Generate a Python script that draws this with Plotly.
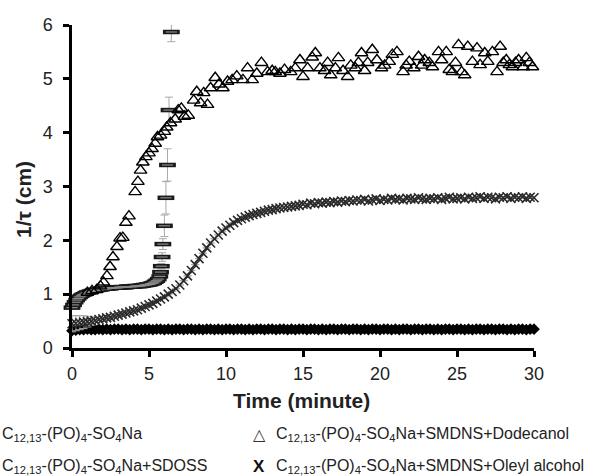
import plotly.graph_objects as go

# ---------------- data ----------------
# regular sampling grid (minutes) for the two long series
t_grid = [0.0, 0.25, 0.5, 0.75, 1.0, 1.25, 1.5, 1.75, 2.0, 2.25,
          2.5, 2.75, 3.0, 3.25, 3.5, 3.75, 4.0, 4.25, 4.5, 4.75,
          5.0, 5.25, 5.5, 5.75, 6.0, 6.25, 6.5, 6.75, 7.0, 7.25,
          7.5, 7.75, 8.0, 8.25, 8.5, 8.75, 9.0, 9.25, 9.5, 9.75,
          10.0, 10.25, 10.5, 10.75, 11.0, 11.25, 11.5, 11.75, 12.0, 12.25,
          12.5, 12.75, 13.0, 13.25, 13.5, 13.75, 14.0, 14.25, 14.5, 14.75,
          15.0, 15.25, 15.5, 15.75, 16.0, 16.25, 16.5, 16.75, 17.0, 17.25,
          17.5, 17.75, 18.0, 18.25, 18.5, 18.75, 19.0, 19.25, 19.5, 19.75,
          20.0, 20.25, 20.5, 20.75, 21.0, 21.25, 21.5, 21.75, 22.0, 22.25,
          22.5, 22.75, 23.0, 23.25, 23.5, 23.75, 24.0, 24.25, 24.5, 24.75,
          25.0, 25.25, 25.5, 25.75, 26.0, 26.25, 26.5, 26.75, 27.0, 27.25,
          27.5, 27.75, 28.0, 28.25, 28.5, 28.75, 29.0, 29.25, 29.5, 29.75,
          30.0]

# C12,13-(PO)4-SO4Na (filled diamonds)
base_y = [0.32, 0.33, 0.34, 0.34, 0.35, 0.34, 0.34, 0.35, 0.34, 0.35,
          0.34, 0.35, 0.35, 0.34, 0.35, 0.34, 0.35, 0.35, 0.34, 0.35,
          0.35, 0.34, 0.35, 0.35, 0.34, 0.35, 0.34, 0.35, 0.35, 0.34,
          0.35, 0.35, 0.34, 0.35, 0.34, 0.35, 0.35, 0.34, 0.35, 0.34,
          0.35, 0.35, 0.34, 0.35, 0.35, 0.34, 0.35, 0.34, 0.35, 0.35,
          0.34, 0.35, 0.35, 0.34, 0.35, 0.35, 0.34, 0.35, 0.34, 0.35,
          0.35, 0.34, 0.35, 0.35, 0.34, 0.35, 0.34, 0.35, 0.35, 0.34,
          0.35, 0.35, 0.34, 0.35, 0.35, 0.34, 0.35, 0.34, 0.35, 0.35,
          0.34, 0.35, 0.35, 0.34, 0.35, 0.34, 0.35, 0.35, 0.34, 0.35,
          0.35, 0.34, 0.35, 0.35, 0.34, 0.35, 0.34, 0.35, 0.35, 0.34,
          0.35, 0.35, 0.34, 0.35, 0.34, 0.35, 0.35, 0.34, 0.35, 0.35,
          0.34, 0.35, 0.35, 0.34, 0.35, 0.34, 0.35, 0.35, 0.34, 0.35,
          0.35]

# C12,13-(PO)4-SO4Na+SMDNS+Oleyl alcohol (X)
oleyl_y = [0.45, 0.46, 0.47, 0.48, 0.49, 0.50, 0.51, 0.53, 0.54, 0.56,
           0.57, 0.59, 0.61, 0.63, 0.65, 0.67, 0.69, 0.71, 0.74, 0.77,
           0.80, 0.83, 0.87, 0.91, 0.95, 1.00, 1.05, 1.10, 1.17, 1.25,
           1.34, 1.44, 1.55, 1.66, 1.76, 1.86, 1.95, 2.03, 2.10, 2.17,
           2.23, 2.28, 2.33, 2.37, 2.40, 2.43, 2.46, 2.48, 2.50, 2.52,
           2.54, 2.56, 2.57, 2.59, 2.60, 2.61, 2.62, 2.63, 2.64, 2.65,
           2.67, 2.66, 2.69, 2.68, 2.70, 2.69, 2.71, 2.70, 2.72, 2.71,
           2.73, 2.72, 2.74, 2.73, 2.75, 2.74, 2.76, 2.73, 2.75, 2.77,
           2.74, 2.76, 2.75, 2.78, 2.76, 2.77, 2.75, 2.78, 2.77, 2.76,
           2.79, 2.77, 2.76, 2.78, 2.77, 2.79, 2.76, 2.78, 2.80, 2.77,
           2.78, 2.79, 2.77, 2.80, 2.78, 2.79, 2.81, 2.78, 2.80, 2.79,
           2.77, 2.80, 2.79, 2.81, 2.78, 2.80, 2.79, 2.81, 2.78, 2.80,
           2.79]
oleyl_err = [0.15, 0.14, 0.13, 0.12, 0.10, 0.08] + [0.0] * 115

# C12,13-(PO)4-SO4Na+SDOSS (dashes)
sdoss_t = [0.0, 0.1, 0.2, 0.3, 0.4, 0.5, 0.6, 0.7, 0.8, 0.9,
           1.0, 1.1, 1.2, 1.3, 1.4, 1.5, 1.6, 1.7, 1.8, 1.9,
           2.0, 2.1, 2.2, 2.3, 2.4, 2.5, 2.6, 2.7, 2.8, 2.9,
           3.0, 3.1, 3.2, 3.3, 3.4, 3.5, 3.6, 3.7, 3.8, 3.9,
           4.0, 4.1, 4.2, 4.3, 4.4, 4.5, 4.6, 4.7, 4.8, 4.9,
           5.0, 5.1, 5.2, 5.3, 5.4, 5.5, 5.6,
           5.7, 5.75, 5.8, 5.85, 5.9, 6.0, 6.1, 6.2, 6.3, 6.45]
sdoss_y = [0.75, 0.80, 0.85, 0.89, 0.92, 0.95, 0.97, 0.99, 1.00, 1.02,
           1.03, 1.04, 1.05, 1.06, 1.07, 1.07, 1.08, 1.08, 1.09, 1.09,
           1.10, 1.10, 1.10, 1.11, 1.11, 1.11, 1.12, 1.12, 1.12, 1.12,
           1.12, 1.13, 1.13, 1.13, 1.13, 1.13, 1.14, 1.14, 1.14, 1.14,
           1.14, 1.15, 1.15, 1.15, 1.15, 1.16, 1.16, 1.17, 1.17, 1.18,
           1.18, 1.19, 1.20, 1.21, 1.23, 1.25, 1.28,
           1.33, 1.41, 1.52, 1.69, 1.93, 2.27, 2.79, 3.40, 4.42, 5.87]
sdoss_err = [0.0] * 59 + [0.05, 0.08, 0.10, 0.20, 0.30, 0.30, 0.24, 0.18]

# C12,13-(PO)4-SO4Na+SMDNS+Dodecanol (open triangles)
dodec_t = [1.0, 1.3, 1.6, 1.85, 2.05, 2.27, 2.47, 2.66, 2.92, 3.12,
           3.3, 3.5, 3.7, 4.1, 4.28, 4.45, 4.6, 4.8, 5.0, 5.2,
           5.4, 5.55, 5.75, 6.0, 6.15, 6.4, 6.7, 6.9, 7.1, 7.3,
           7.55, 7.9, 8.1, 8.35, 8.55, 8.8, 9.0, 9.3, 9.55, 9.8,
           10.1, 10.4, 10.7, 11.1, 11.4, 11.7, 12.0, 12.3, 12.7, 13.0,
           13.2, 13.5, 13.8, 14.2, 14.5, 14.8, 15.0, 15.3, 15.6, 15.8,
           16.1, 16.4, 16.6, 16.8, 17.1, 17.3, 17.6, 17.9, 18.1, 18.4,
           18.6, 18.8, 19.0, 19.2, 19.5, 19.8, 20.1, 20.3, 20.6, 20.8,
           21.1, 21.5, 21.7, 21.9, 22.2, 22.5, 22.7, 22.9, 23.2, 23.4,
           23.8, 24.0, 24.3, 24.5, 24.7, 24.9, 25.1, 25.3, 25.5, 25.7,
           26.0, 26.3, 26.5, 26.8, 27.0, 27.3, 27.6, 27.8, 28.0, 28.2,
           28.4, 28.6, 28.8, 29.0, 29.3, 29.5, 29.7, 29.9, 30.1]
dodec_y = [1.03, 1.06, 1.08, 1.15, 1.22, 1.34, 1.51, 1.69, 1.88, 2.04,
           2.05, 2.33, 2.45, 2.90, 3.09, 3.30, 3.45, 3.55, 3.62, 3.70,
           3.80, 3.92, 3.95, 4.02, 4.10, 4.18, 4.25, 4.42, 4.45, 4.30,
           4.32, 4.60, 4.76, 4.55, 4.74, 4.52, 4.83, 5.02, 4.90, 4.83,
           4.95, 4.98, 5.05, 4.98, 5.20, 4.98, 5.10, 5.30, 5.13, 5.15,
           5.13, 5.10, 5.17, 5.13, 5.20, 5.35, 5.04, 5.20, 5.40, 5.48,
           5.20, 5.15, 5.30, 5.07, 5.20, 5.39, 5.15, 5.04, 5.25, 5.20,
           5.30, 5.48, 5.15, 5.30, 5.54, 5.35, 5.20, 5.25, 5.32, 5.45,
           5.50, 5.13, 5.25, 5.32, 5.20, 5.41, 5.25, 5.35, 5.30, 5.22,
           5.50, 5.35, 5.50, 5.17, 5.13, 5.30, 5.63, 5.13, 5.07, 5.60,
           5.32, 5.57, 5.26, 5.48, 5.32, 5.50, 5.13, 5.60, 5.30, 5.35,
           5.26, 5.22, 5.30, 5.35, 5.22, 5.39, 5.30, 5.22, 5.69]

x_ticks = [0, 5, 10, 15, 20, 25, 30]
y_ticks = [0, 1, 2, 3, 4, 5, 6]

legend_labels = [
    "C<sub>12,13</sub>-(PO)<sub>4</sub>-SO<sub>4</sub>Na",
    "C<sub>12,13</sub>-(PO)<sub>4</sub>-SO<sub>4</sub>Na+SDOSS",
    "C<sub>12,13</sub>-(PO)<sub>4</sub>-SO<sub>4</sub>Na+SMDNS+Dodecanol",
    "C<sub>12,13</sub>-(PO)<sub>4</sub>-SO<sub>4</sub>Na+SMDNS+Oleyl alcohol",
]

# ---------------- figure ----------------
FONT = "Liberation Sans, Arial, Helvetica, sans-serif"
GRAY = "#a8a8a8"

fig = go.Figure()

fig.add_trace(go.Scatter(
    x=t_grid, y=base_y, mode="markers", cliponaxis=False,
    marker=dict(symbol="diamond", size=9, color="black"),
    showlegend=False))

fig.add_trace(go.Scatter(
    x=t_grid, y=oleyl_y, mode="markers", cliponaxis=False,
    error_y=dict(type="data", array=oleyl_err, color=GRAY, thickness=1, width=4),
    marker=dict(symbol="x-thin-open", size=9, color="#2a2a2a",
                line=dict(width=1.6, color="#2a2a2a")),
    showlegend=False))

# dash markers: dark outer bar with a lighter core -> outlined look
fig.add_trace(go.Scatter(
    x=sdoss_t, y=sdoss_y, mode="markers", cliponaxis=False,
    error_y=dict(type="data", array=sdoss_err, color=GRAY, thickness=1, width=4),
    marker=dict(symbol="line-ew-open", size=12, color="#1a1a1a",
                line=dict(width=4.5, color="#1a1a1a")),
    showlegend=False))
fig.add_trace(go.Scatter(
    x=sdoss_t, y=sdoss_y, mode="markers", cliponaxis=False,
    marker=dict(symbol="line-ew-open", size=8, color="#8a8a8a",
                line=dict(width=1.2, color="#8a8a8a")),
    showlegend=False))

fig.add_trace(go.Scatter(
    x=dodec_t, y=dodec_y, mode="markers", cliponaxis=False,
    marker=dict(symbol="triangle-up-open", size=11, color="black",
                line=dict(width=1.4, color="black")),
    showlegend=False))

axis_common = dict(showline=True, linewidth=2.5, linecolor="black",
                   ticks="outside", ticklen=6, tickwidth=2.5, tickcolor="black",
                   showgrid=False, zeroline=False,
                   tickfont=dict(family=FONT, size=18, color="#222222"))

fig.update_xaxes(range=[0, 30], tickvals=x_ticks, ticklabelstandoff=2, **axis_common)
fig.update_yaxes(range=[0, 6], tickvals=y_ticks, ticklabelstandoff=7, **axis_common)

# body margin is removed in the page, so figure pixels == window pixels
W, H = 598, 476
L, T = 72, 25
R, B = W - 534, H - 348
pw, ph = W - L - R, H - T - B


def px(xw):
    return (xw - L) / pw


def py(yw):
    return (H - B - yw) / ph


ann = []
ann.append(dict(text="<b>Time (minute)</b>", x=px(301), y=py(400),
                xanchor="center", yanchor="middle", showarrow=False,
                font=dict(family=FONT, size=21, color="#222222")))
ann.append(dict(text="<b>1/τ (cm)</b>", x=px(23), y=py(200), textangle=-90,
                xanchor="center", yanchor="middle", showarrow=False,
                font=dict(family=FONT, size=21, color="#222222")))
# legend (manual, two columns)
rows = [py(434), py(466)]
LF = 16
ann.append(dict(text=legend_labels[0], x=px(0), y=rows[0], xanchor="left", yanchor="middle",
                showarrow=False, font=dict(family=FONT, size=LF, color="#222222")))
ann.append(dict(text=legend_labels[1], x=px(0), y=rows[1], xanchor="left", yanchor="middle",
                showarrow=False, font=dict(family=FONT, size=LF, color="#222222")))
ann.append(dict(text="△", x=px(259), y=rows[0], xanchor="center", yanchor="middle",
                showarrow=False, font=dict(family="DejaVu Sans", size=16, color="#333333")))
ann.append(dict(text="<b>X</b>", x=px(259), y=rows[1], xanchor="center", yanchor="middle",
                showarrow=False, font=dict(family=FONT, size=17, color="#111111")))
ann.append(dict(text=legend_labels[2], x=px(274), y=rows[0], xanchor="left", yanchor="middle",
                showarrow=False, font=dict(family=FONT, size=LF, color="#222222")))
ann.append(dict(text=legend_labels[3], x=px(274), y=rows[1], xanchor="left", yanchor="middle",
                showarrow=False, font=dict(family=FONT, size=LF, color="#222222")))
for a in ann:
    a["xref"] = "paper"
    a["yref"] = "paper"

fig.update_layout(width=W, height=H, margin=dict(l=L, r=R, t=T, b=B, autoexpand=False),
                  paper_bgcolor="white", plot_bgcolor="white",
                  annotations=ann, showlegend=False)

fig.write_html("out.html", config={"displayModeBar": False},
               post_script="document.body.style.margin='0';document.body.style.overflow='hidden';")
